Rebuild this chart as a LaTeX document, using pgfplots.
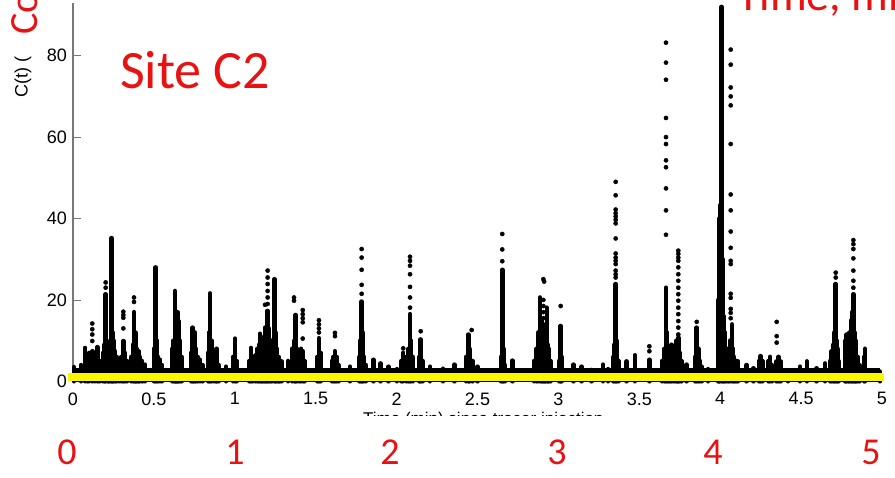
\documentclass[border=0pt]{standalone}
\usepackage{fontspec}
\setmainfont{Liberation Sans}
\newfontfamily\calfont{Carlito}
\usepackage{pgfplots}
\pgfplotsset{compat=1.18}
\definecolor{annred}{RGB}{232,18,18}
\definecolor{hiyellow}{RGB}{250,246,0}
\definecolor{axgray}{RGB}{120,120,120}

\begin{document}
\begin{tikzpicture}
\useasboundingbox (0pt,0pt) rectangle (895pt,-477pt);
\clip (0pt,0pt) rectangle (895pt,-477pt);
\begin{axis}[
  at={(73pt,-381.3pt)}, anchor=south west,
  scale only axis, width=809pt, height=378.1pt,
  xmin=0, xmax=5, ymin=0, ymax=92.9,
  clip=false,
  axis x line=bottom, axis y line=left,
  axis line style={-},
  x axis line style={black, line width=2pt},
  y axis line style={axgray, line width=1.2pt},
  xtick={0,0.5,1,1.5,2,2.5,3,3.5,4,4.5,5},
  xticklabels={0,0.5,1,1.5,2,2.5,3,3.5,4,4.5,5},
  ytick={0,20,40,60,80},
  yticklabels={0,20,40,60,80},
  tick align=inside, major tick length=8pt,
  tick style={axgray, line width=0.8pt},
  ticklabel style={font=\fontsize{18}{18}\selectfont},
  xticklabel style={anchor=north, inner sep=0pt, yshift=-11pt},
  yticklabel style={anchor=east, inner sep=0pt, xshift=-6pt},
]
% baseline band of low readings
\addplot[black, line width=5pt, mark=none] coordinates {(0,2.6) (4.99,2.6)};
% dense columns of readings
\addplot[ycomb, black, line width=4.5pt, line cap=round, mark=none] coordinates {
(0.006,3.5) (0.074,8.2) (0.119,7.4) (0.150,8.4) (0.202,21.4) (0.220,8) (0.239,35.2) (0.250,10)
(0.260,7.4) (0.311,9.9) (0.377,17.0) (0.390,9) (0.404,7.4) (0.445,4.1) (0.511,28.0) (0.538,5.3)
(0.630,22.2) (0.640,12) (0.651,14.8) (0.740,13.2) (0.754,12.0) (0.785,5.3) (0.847,21.6) (0.888,8.0)
(0.946,3.6) (1.001,10.5) (1.100,8.2) (1.129,6.4) (1.140,8) (1.156,11.7) (1.170,9) (1.187,13.2)
(1.203,17.3) (1.220,10) (1.244,25.1) (1.260,8) (1.270,6) (1.290,4.9) (1.376,16.3) (1.420,7.4)
(1.520,10.6) (1.619,7.4) (1.712,3.6) (1.784,19.6) (1.856,5.3) (1.902,4.4) (1.949,3.6) (2.001,3.0)
(2.041,7.0) (2.083,16.5) (2.149,10.3) (2.206,3.6) (2.287,3.1) (2.357,4.1) (2.443,11.5) (2.499,3.6)
(2.653,27.4) (2.715,5.1) (2.886,20.6) (2.895,15) (2.907,13.0) (2.920,14) (2.928,18.1) (2.940,8)
(3.014,13.6) (3.092,4.1) (3.144,3.6) (3.206,2.8) (3.277,4.1) (3.308,3.0) (3.354,23.9) (3.422,4.9)
(3.473,6.4) (3.562,5.3) (3.665,23.0) (3.680,8) (3.700,9) (3.710,7.4) (3.720,8) (3.730,10)
(3.741,10.7) (3.793,4.1) (3.855,13.2) (3.886,3.6) (3.926,3.0) (3.995,40) (4.000,43.3) (4.009,92)
(4.015,30) (4.030,12) (4.040,8) (4.060,10) (4.073,14.0) (4.080,8) (4.090,5) (4.110,4.9)
(4.164,4.0) (4.205,3.2) (4.250,6.2) (4.308,6.0) (4.349,4.9) (4.374,4.9) (4.419,2.4) (4.493,3.6)
(4.535,4.9) (4.596,3.2) (4.648,4.4) (4.689,7.4) (4.705,12) (4.714,23.9) (4.720,10) (4.782,11.5)
(4.790,10) (4.810,15) (4.823,21.4) (4.830,12) (4.840,8) (4.895,8.0) (4.988,2.4)
};
% lower skirts of readings round each burst
\addplot[ycomb, black, line width=4.5pt, line cap=round, mark=none] coordinates {
(0.05,4) (0.09,6) (0.10,7) (0.135,6) (0.165,5) (0.185,7) (0.195,9) (0.215,8) (0.23,10) (0.245,12)
(0.27,6) (0.285,5) (0.30,6) (0.32,7) (0.335,5) (0.36,6) (0.37,9) (0.385,12) (0.395,8) (0.41,6)
(0.425,5) (0.43,4) (0.50,8) (0.52,10) (0.525,6) (0.55,4) (0.615,8) (0.62,10) (0.635,15) (0.645,17)
(0.66,10) (0.67,6) (0.73,7) (0.745,9) (0.76,8) (0.77,6) (0.80,4) (0.835,7) (0.84,12) (0.855,10)
(0.87,5) (0.885,6) (0.90,4)
(0.99,6) (1.01,5) (1.09,5) (1.11,6) (1.15,9) (1.165,10) (1.18,11) (1.195,12) (1.21,13) (1.23,10)
(1.25,12) (1.255,9) (1.275,5) (1.33,5) (1.355,8) (1.37,10) (1.385,8) (1.40,6) (1.41,8) (1.43,5)
(1.51,6) (1.53,7) (1.60,5) (1.61,6) (1.63,6) (1.64,4) (1.77,6) (1.775,10) (1.79,12) (1.80,6) (1.81,4)
(2.03,5) (2.06,6) (2.075,8) (2.09,10) (2.10,6) (2.14,6) (2.16,5) (2.43,6) (2.45,8) (2.47,5)
(2.645,6) (2.66,8) (2.67,4) (2.85,5) (2.865,8) (2.875,12) (2.90,11) (2.915,10) (2.935,9) (2.95,5)
(3.005,5) (3.02,6)
(3.34,6) (3.345,9) (3.36,10) (3.37,5) (3.64,5) (3.655,8) (3.672,12) (3.69,6) (3.735,8) (3.75,7)
(3.76,5) (3.845,6) (3.865,8) (3.875,5)
(3.985,10) (3.99,20) (4.02,16) (4.025,10) (4.05,8) (4.085,6) (4.10,5) (4.24,5) (4.26,5) (4.30,5)
(4.32,4) (4.36,6) (4.68,5) (4.70,9) (4.725,8) (4.73,5) (4.77,8) (4.775,10) (4.795,9) (4.80,12)
(4.815,17) (4.835,10) (4.85,6) (4.86,4) (4.89,6)
};
% isolated readings
\addplot[only marks, mark=*, mark size=2.1pt, black] coordinates {
(0.119,14.2) (0.119,12.8) (0.119,11.5) (0.119,9.9)
(0.202,24.3) (0.202,23.0)
(0.311,17.1) (0.311,16.3) (0.311,15.6) (0.311,13)
(0.377,20.6) (0.377,19.5)
(1.187,18.8)
(1.203,27.2) (1.203,25.5) (1.203,23.9) (1.203,22.2) (1.203,20.6) (1.203,19)
(1.366,20.6) (1.366,19.8)
(1.420,17.5) (1.420,16.5) (1.420,15.5) (1.420,14.5) (1.420,10.5)
(1.520,15) (1.520,14) (1.520,13) (1.520,12)
(1.619,11.9) (1.619,11.1)
(1.784,32.5) (1.784,30.4) (1.784,27.4) (1.784,23.7) (1.784,21.5)
(2.041,8.1)
(2.083,30.6) (2.083,29.6) (2.083,28.4) (2.083,26.3) (2.083,23.2) (2.083,20.6) (2.083,18.1)
(2.149,12.3) (2.464,12.6)
(2.653,36.2) (2.653,32.4) (2.653,29.5)
(2.907,25.1) (2.912,24.5) (2.907,20) (2.907,18.5) (2.907,17) (2.907,15.5)
(3.014,18.5)
(3.354,49) (3.354,45.7) (3.354,42.2) (3.354,41.3) (3.354,40.5) (3.354,39.7) (3.354,38.8) (3.354,35.1)
(3.354,31.4) (3.354,30.4) (3.354,29.6) (3.354,28.8) (3.354,27.2) (3.354,26.3) (3.354,25.5)
(3.562,8.6) (3.562,7.4)
(3.665,83.2) (3.665,78.3) (3.665,74.1) (3.665,64.7) (3.665,60) (3.665,58.3) (3.665,54.3) (3.665,52.6)
(3.665,47.4) (3.665,42) (3.665,36)
(3.741,32.1) (3.741,31.3) (3.741,30.4) (3.741,29.6) (3.741,28) (3.741,26.3) (3.741,24.7) (3.741,23)
(3.741,21.4) (3.741,19.8) (3.741,18.1) (3.741,16.5) (3.741,14.8) (3.741,13.2) (3.741,11.5)
(3.855,14.6)
(4.065,81.5) (4.065,77.8) (4.065,72.2) (4.065,70) (4.065,67.8) (4.065,58.3) (4.065,45.9) (4.065,42)
(4.065,36.8) (4.065,32.8) (4.065,29.6) (4.065,28.8) (4.065,21.5) (4.065,20.5) (4.065,17.8) (4.065,16.8)
(4.065,15.5)
(4.349,14.6) (4.349,11.1) (4.349,9.5)
(4.714,26.7) (4.714,25.5)
(4.823,34.7) (4.823,33.7) (4.823,32.5) (4.823,30.2) (4.823,27.2) (4.823,24.7) (4.823,23) (4.823,19)
(4.823,17) (4.823,15) (4.823,13)
};
% yellow highlight along the baseline
\draw[hiyellow, line width=8pt] (axis cs:-0.031,1.06) -- (axis cs:5.012,1.06);
\end{axis}
% axis labels (partly hidden in the reference)
\node[rotate=90, anchor=base west, inner sep=0pt, font=\fontsize{18}{18}\selectfont] at (27.5pt,-98pt) {C(t) (};
\node[anchor=north west, inner sep=0pt, font=\fontsize{17}{17}\selectfont] at (363pt,-411.5pt) {Time (min) since tracer injection};
\fill[white] (0pt,-415.5pt) rectangle (895pt,-477pt);
% red annotations
\node[rotate=90, anchor=base west, inner sep=0pt, text=annred, font=\calfont\fontsize{40}{40}\selectfont] at (37pt,-35pt) {Concentration};
\node[anchor=base west, inner sep=0pt, text=annred, font=\calfont\fontsize{54}{54}\selectfont] at (120pt,-88pt) {Site C2};
\node[anchor=base west, inner sep=0pt, text=annred, font=\calfont\fontsize{46}{46}\selectfont] at (737pt,-10pt) {Time, min};
\foreach \px/\t in {67/0,235/1,390/2,557/3,713/4,871/5}
  \node[anchor=base, inner sep=0pt, text=annred, font=\calfont\fontsize{38}{38}\selectfont] at (\px pt,-464pt) {\t};
\end{tikzpicture}
\end{document}
